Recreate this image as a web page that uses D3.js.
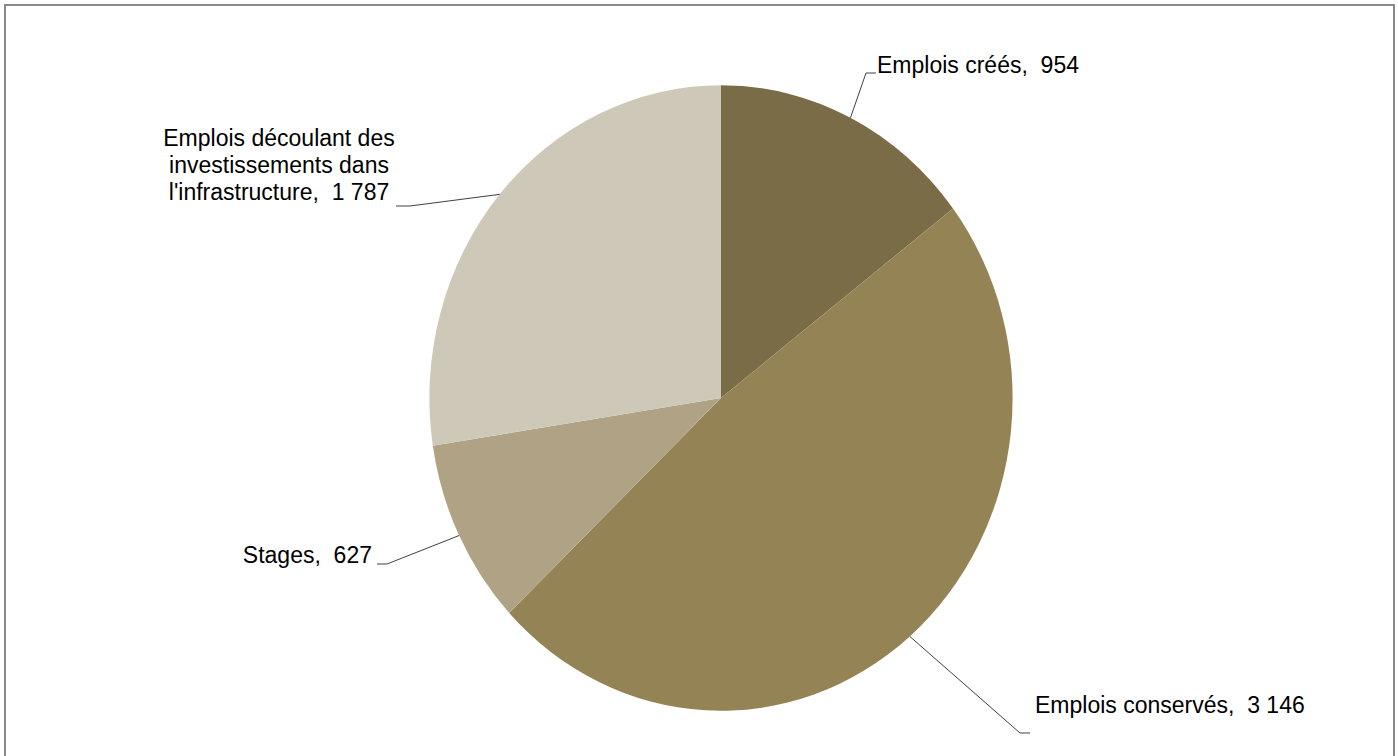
<!DOCTYPE html>
<html><head><meta charset="utf-8">
<script src="https://cdn.jsdelivr.net/npm/d3@7"></script>
<style>body{margin:0;background:#fff;} svg{display:block;} text{font-family:"Liberation Sans",Arial,sans-serif;fill:#000;white-space:pre;}</style>
</head><body>
<svg id="chart" width="1398" height="756"></svg>
<script>
const categories = ["Emplois créés", "Emplois conservés", "Stages", "Emplois découlant des investissements dans l'infrastructure"];
const values = [954, 3146, 627, 1787];
const colors = ["#7a6c46", "#948455", "#b0a385", "#cdc8b8"];
// label lines (text lines) per slice
const labelLines = [
  ["Emplois créés,  954"],
  ["Emplois conservés,  3 146"],
  ["Stages,  627"],
  ["Emplois découlant des", "investissements dans", "l'infrastructure,  1 787"]
];

const W = 1398, H = 756;
const cx = 721, cy = 398, rx = 291.6, ry = 312.8;
const svg = d3.select("#chart");

svg.append("rect").attr("x", 5).attr("y", 5).attr("width", 1389).attr("height", 760)
  .attr("fill", "#fff").attr("stroke", "#898989").attr("stroke-width", 2);

const pie = d3.pie().sort(null).value(d => d)(values);
const arc = d3.arc().innerRadius(0).outerRadius(ry);

const g = svg.append("g").attr("transform", `translate(${cx},${cy}) scale(${rx/ry},1)`);
g.selectAll("path").data(pie).join("path")
  .attr("d", arc).attr("fill", (d, i) => colors[i]);

function edge(d) {
  const a = (d.startAngle + d.endAngle) / 2;
  return [cx + rx * Math.sin(a), cy - ry * Math.cos(a)];
}
const layout = [
  {elbow: [866, 73], end: [876, 73], anchor: "start", tx: 877, ty: 73},
  {elbow: [1020, 733], end: [1030, 733], anchor: "start", tx: 1035, ty: 713},
  {elbow: [387, 564], end: [377, 564], anchor: "end", tx: 372, ty: 563},
  {elbow: [410, 206], end: [396, 206], anchor: "middle", tx: 279, ty: 146}
];
const fs = 23, lh = 27;
pie.forEach((d, i) => {
  const p = edge(d), L = layout[i];
  svg.append("path")
    .attr("d", d3.line()([p, L.elbow, L.end]))
    .attr("fill", "none").attr("stroke", "#404040").attr("stroke-width", 1);
  const t = svg.append("text").attr("text-anchor", L.anchor).attr("font-size", fs)
    .attr("xml:space", "preserve");
  labelLines[i].forEach((s, k) => {
    t.append("tspan").attr("x", L.tx).attr("y", L.ty + k * lh).text(s);
  });
});
</script>
</body></html>
